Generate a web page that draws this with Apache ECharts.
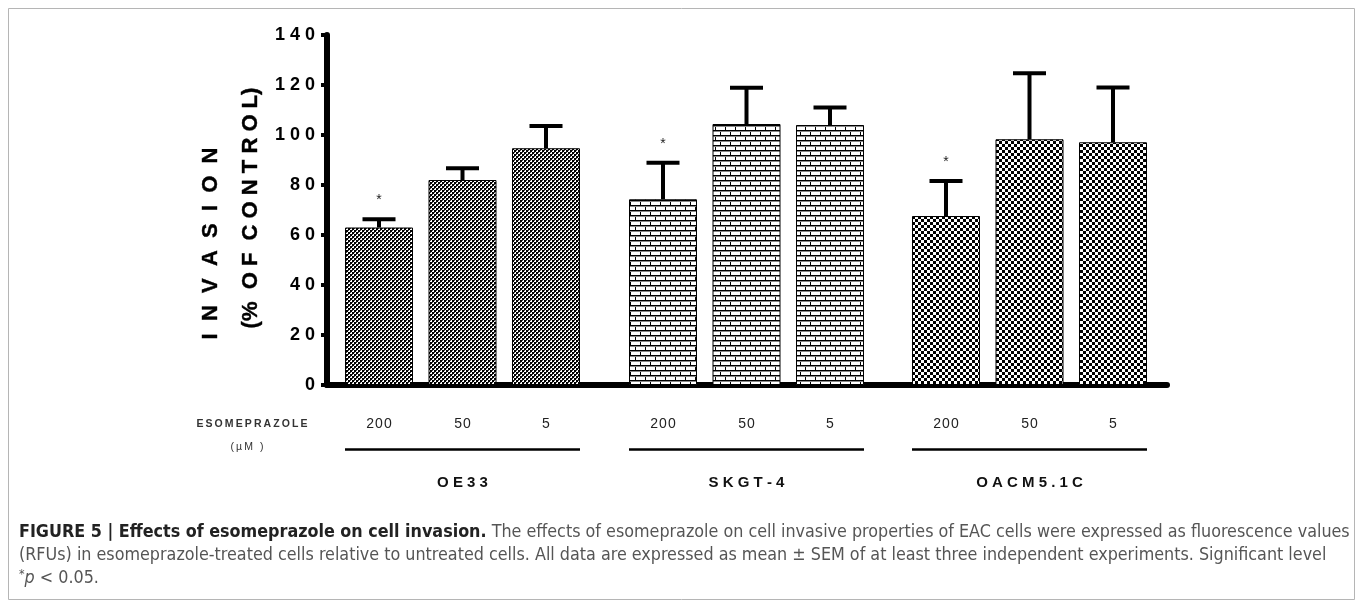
<!DOCTYPE html>
<html><head><meta charset="utf-8">
<script src="https://cdn.jsdelivr.net/npm/echarts@6.0.0/dist/echarts.min.js"></script>
<style>html,body{margin:0;padding:0;background:#fff}#c{width:1363px;height:608px}</style>
</head><body><div id="c"></div>
<script>
// ---------- data ----------
const groups = ['OE33', 'SKGT-4', 'OACM5.1C'];
const doses = ['200', '50', '5'];
const yMin = 0, yMax = 140, yStep = 20;
const oe33Mean = [63.0, 82.0, 94.7];
const oe33Sem  = [3.3, 4.7, 8.9];
const oe33Sig  = [1, 0, 0];
const skgtMean = [74.3, 104.4, 104.0];
const skgtSem  = [14.6, 14.5, 7.0];
const skgtSig  = [1, 0, 0];
const oacmMean = [67.6, 98.3, 97.1];
const oacmSem  = [14.0, 26.4, 21.9];
const oacmSig  = [1, 0, 0];
const yTitle1 = 'INVASION';
const yTitle2 = '(% OF CONTROL)';
const doseTitle = 'ESOMEPRAZOLE';
const doseUnit = '(µM )';
const capBold = 'FIGURE 5 | Effects of esomeprazole on cell invasion.';
const capLine1 = ' The effects of esomeprazole on cell invasive properties of EAC cells were expressed as fluorescence values';
const capLine2 = '(RFUs) in esomeprazole-treated cells relative to untreated cells. All data are expressed as mean ± SEM of at least three independent experiments. Significant level';
const capLine3 = ' < 0.05.';

const means = [oe33Mean, skgtMean, oacmMean];
const sems = [oe33Sem, skgtSem, oacmSem];
const sigs = [oe33Sig, skgtSig, oacmSig];

// ---------- patterns ----------
function mk(w, h, draw) { const c = document.createElement('canvas'); c.width = w; c.height = h; const x = c.getContext('2d'); x.fillStyle = '#fff'; x.fillRect(0, 0, w, h); draw(x); return c; }
const patFine = mk(4, 4, x => { x.fillStyle = '#000'; x.fillRect(0, 0, 2, 2); x.fillRect(2, 2, 2, 2); x.fillStyle = '#444'; x.fillRect(2,0,1,1); x.fillRect(0,2,1,1); });
const patBrick = mk(10, 10, x => {
  x.fillStyle = '#000';
  x.fillRect(0, 0, 10, 1); x.fillRect(0, 5, 10, 1);
  x.fillRect(0, 0, 1, 5); x.fillRect(5, 5, 1, 5);
  x.fillStyle = '#888';
  x.fillRect(0, 1, 10, 1); x.fillRect(0, 6, 10, 1);
});
const patCheck = mk(6, 6, x => { x.fillStyle = '#000'; x.fillRect(0, 0, 3, 3); x.fillRect(3, 3, 3, 3); });
const pats = [patFine, patBrick, patCheck];

// ---------- font helpers ----------
function hasFont(f) {
  const c = document.createElement('canvas').getContext('2d');
  const t = 'abcdefghijklmnopqrstuvwxyz ABCDEFGHIJ 0123456789';
  c.font = '40px monospace'; const w0 = c.measureText(t).width;
  c.font = '40px "' + f + '", monospace'; return Math.abs(c.measureText(t).width - w0) > 0.5;
}
const capFam = hasFont('Liberation Sans Narrow') ? 'Liberation Sans Narrow' : (hasFont('DejaVu Sans Condensed') ? 'DejaVu Sans Condensed' : 'Liberation Sans');
function measure(txt, font) { const c = document.createElement('canvas').getContext('2d'); c.font = font; return c.measureText(txt).width; }
const w20 = measure(capBold, 'bold 20px "' + capFam + '"') + measure(capLine1, '20px "' + capFam + '"');
const capSize = Math.min(20, 20 * 1332 / w20);

const F = 'Liberation Sans, Arial, sans-serif';
const sp = (s, g) => s.split('').join(g);

// ---------- layout ----------
const gTop = 35, gH = 350;
const slotLefts = [337.25, 621.25, 904.25], slotW = 250.5;
const barW = 68;

const chart = echarts.init(document.getElementById('c'), null, { renderer: 'canvas' });

function renderErr(params, api) {
  const i = api.value(0), m = api.value(1), s = api.value(2), sig = api.value(3);
  const top = api.coord([i, m]);
  const cap = api.coord([i, m + s]);
  const hw = 16.5;
  const ch = [
    { type: 'line', shape: { x1: top[0], y1: top[1], x2: cap[0], y2: cap[1] }, style: { stroke: '#000', lineWidth: 4 } },
    { type: 'line', shape: { x1: cap[0] - hw, y1: cap[1], x2: cap[0] + hw, y2: cap[1] }, style: { stroke: '#000', lineWidth: 4 } }
  ];
  if (sig) ch.push({ type: 'text', x: cap[0], y: cap[1] - 19, style: { text: '*', fill: '#222', font: '14px ' + F, align: 'center', verticalAlign: 'middle' } });
  return { type: 'group', children: ch };
}

const grids = [{ left: 327, width: 840, top: gTop, height: gH, outerBoundsMode: 'none', containLabel: false }];
const xAxes = [{ type: 'value', gridIndex: 0, min: 0, max: 1, axisLine: { show: true, lineStyle: { color: '#000', width: 6 } }, axisTick: { show: false }, axisLabel: { show: false }, splitLine: { show: false } }];
const yAxes = [{ type: 'value', gridIndex: 0, min: yMin, max: yMax, interval: yStep,
  axisLine: { show: true, lineStyle: { color: '#000', width: 6 } },
  axisTick: { show: true, length: 6, lineStyle: { color: '#000', width: 4 } },
  axisLabel: { show: true, margin: 12, color: '#000', fontWeight: 'bold', fontSize: 18, fontFamily: F, formatter: v => sp(String(v), ' ') },
  splitLine: { show: false } }];
const series = [];
groups.forEach((g, gi) => {
  const k = gi + 1;
  grids.push({ left: slotLefts[gi], width: slotW, top: gTop, height: gH, outerBoundsMode: 'none', containLabel: false });
  xAxes.push({ type: 'category', gridIndex: k, data: doses,
    axisLine: { show: false }, axisTick: { show: false },
    axisLabel: { show: true, margin: 32, color: '#222', fontSize: 14, fontFamily: F, interval: 0, formatter: v => sp(v, '\u200A') },
    name: sp(g, ' '), nameLocation: 'middle', nameGap: 90,
    nameTextStyle: { color: '#111', fontWeight: 'bold', fontSize: 15, fontFamily: F } });
  yAxes.push({ type: 'value', gridIndex: k, min: yMin, max: yMax, interval: yStep, show: false, splitLine: { show: false } });
  series.push({ type: 'bar', xAxisIndex: k, yAxisIndex: k, data: means[gi], barWidth: barW, silent: true,
    itemStyle: { color: { image: pats[gi], repeat: 'repeat' }, borderColor: '#000', borderWidth: 1 } });
  series.push({ type: 'custom', xAxisIndex: k, yAxisIndex: k, renderItem: renderErr, z: 5, silent: true,
    encode: { x: 0, y: 1 },
    data: means[gi].map((m, i) => [i, m, sems[gi][i], sigs[gi][i]]) });
});

chart.setOption({
  animation: false,
  backgroundColor: '#fff',
  grid: grids, xAxis: xAxes, yAxis: yAxes, series: series
});

// ---------- decorations ----------
const gfx = [];
gfx.push({ type: 'rect', shape: { x: 8.5, y: 8.5, width: 1346, height: 591 }, style: { fill: 'none', stroke: '#b5b5b5', lineWidth: 1 }, silent: true });
groups.forEach((g, gi) => {
  const l = chart.convertToPixel({ xAxisIndex: gi + 1 }, doses[0]) - barW / 2;
  const r = chart.convertToPixel({ xAxisIndex: gi + 1 }, doses[doses.length - 1]) + barW / 2;
  gfx.push({ type: 'line', shape: { x1: l, y1: 449.5, x2: r, y2: 449.5 }, style: { stroke: '#000', lineWidth: 2.5 }, silent: true });
});
// word letters spaced by one space, words by two; brackets kept tight
const spaceWords = s => s.split(' ').map(w => w.replace(/[^()]/g, c => c + ' ').replace(/ \)/, ')').trim()).join('  ');
gfx.push({ type: 'text', x: 211, y: 243.5, rotation: Math.PI / 2, style: { text: sp(yTitle1, '  '), font: 'bold 22px ' + F, fill: '#000', align: 'center', verticalAlign: 'middle', stroke: '#000', lineWidth: 0.4 } });
gfx.push({ type: 'text', x: 251, y: 208, rotation: Math.PI / 2, style: { text: spaceWords(yTitle2), font: 'bold 22px ' + F, fill: '#000', align: 'center', verticalAlign: 'middle', stroke: '#000', lineWidth: 0.4 } });
gfx.push({ type: 'text', x: 252, y: 424.5, style: { text: sp(doseTitle, '\u2009'), font: '600 10.5px ' + F, fill: '#333', align: 'center', verticalAlign: 'middle' } });
gfx.push({ type: 'text', x: 247, y: 447, style: { text: sp(doseUnit, '\u2009'), font: '10.5px ' + F, fill: '#333', align: 'center', verticalAlign: 'middle' } });
const cf = '"' + capFam + '", sans-serif';
gfx.push({ type: 'text', x: 19, y: 532, style: { text: '{b|' + capBold + '}{n|' + capLine1 + '}', verticalAlign: 'middle', align: 'left',
  rich: { b: { fontFamily: cf, fontWeight: 'bold', fontSize: capSize, fill: '#222' }, n: { fontFamily: cf, fontSize: capSize, fill: '#555' } } } });
gfx.push({ type: 'text', x: 19, y: 555, style: { text: capLine2, fontFamily: cf, fontSize: capSize, fill: '#555', verticalAlign: 'middle', align: 'left' } });
gfx.push({ type: 'text', x: 19, y: 578, style: { text: '{s|*}{i|p}{n|' + capLine3 + '}', verticalAlign: 'middle', align: 'left',
  rich: { s: { fontFamily: cf, fontSize: capSize * 0.7, fill: '#555', verticalAlign: 'top' }, i: { fontFamily: cf, fontStyle: 'italic', fontSize: capSize, fill: '#555' }, n: { fontFamily: cf, fontSize: capSize, fill: '#555' } } } });
chart.setOption({ graphic: gfx });
</script>
</body></html>
